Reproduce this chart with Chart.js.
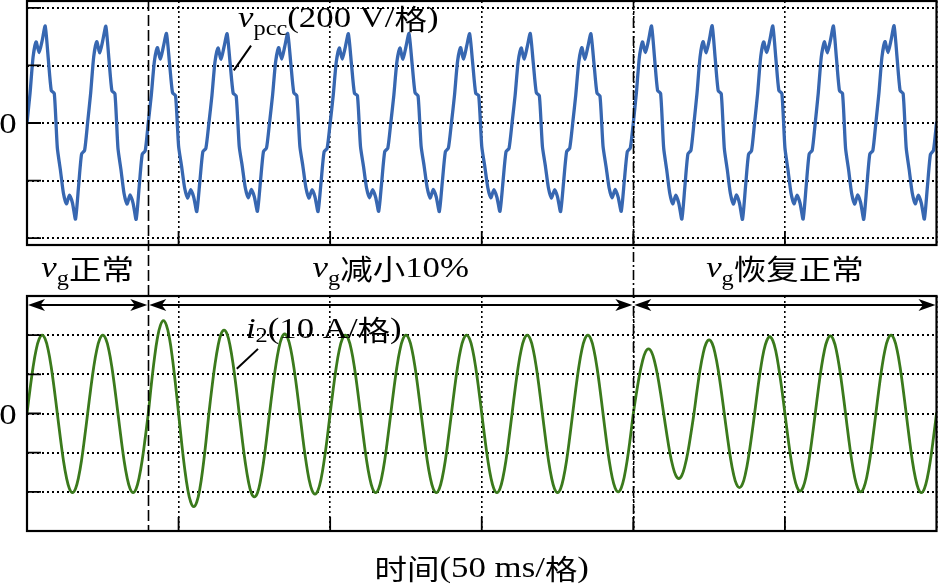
<!DOCTYPE html>
<html>
<head>
<meta charset="utf-8">
<script src="https://cdn.jsdelivr.net/npm/chart.js@4.4.1/dist/chart.umd.min.js"></script>
<style>
html, body { margin: 0; padding: 0; background: #fff; }
#wrap { position: relative; width: 938px; height: 586px; overflow: hidden; background: #fff; }
#wrap canvas { position: absolute; left: 0; top: 0; }
</style>
</head>
<body>
<div id="wrap">
  <canvas id="cTop" width="938" height="586"></canvas>
  <canvas id="cBot" width="938" height="586"></canvas>
</div>
<script>
// ---------------- data ----------------
// sample instants, 1 ms apart, 0 ... 300 ms (6 divisions x 50 ms)
const timeMs = Array.from({ length: 301 }, (_, i) => i);

// v_pcc in volts (200 V / division), one row = one 20 ms cycle
const vpccV = [
  0, 103, 229, 282, 245, 286, 337, 226, 113, 103, -86, -162, -243, -281, -251, -278, -334, -221, -108, -95,
  2, 104, 230, 283, 244, 287, 336, 225, 112, 102, -87, -163, -244, -282, -250, -279, -335, -222, -109, -96,
  1, 96, 213, 262, 222, 266, 311, 209, 105, 95, -80, -151, -226, -261, -232, -258, -308, -205, -100, -88,
  0, 95, 212, 261, 221, 265, 310, 208, 104, 94, -81, -150, -225, -260, -231, -257, -307, -204, -99, -87,
  1, 96, 212, 262, 222, 265, 311, 209, 105, 95, -80, -150, -225, -261, -232, -257, -308, -205, -100, -88,
  0, 95, 211, 261, 222, 264, 310, 208, 104, 95, -81, -151, -226, -260, -232, -258, -307, -205, -99, -88,
  1, 96, 212, 261, 221, 265, 311, 209, 105, 94, -80, -150, -225, -261, -231, -257, -308, -204, -100, -87,
  0, 95, 213, 262, 222, 266, 310, 209, 104, 95, -81, -151, -225, -260, -232, -258, -307, -205, -100, -88,
  1, 95, 212, 261, 222, 265, 311, 208, 105, 95, -80, -150, -226, -261, -232, -257, -308, -205, -99, -88,
  0, 96, 212, 262, 221, 265, 310, 209, 104, 94, -80, -151, -225, -260, -231, -258, -307, -204, -100, -87,
  1, 104, 230, 282, 245, 287, 337, 226, 113, 103, -86, -162, -243, -281, -251, -279, -334, -221, -108, -95,
  0, 103, 229, 283, 244, 286, 338, 225, 112, 102, -87, -163, -244, -282, -250, -278, -335, -222, -109, -96,
  1, 103, 229, 282, 245, 287, 337, 226, 113, 103, -86, -162, -243, -281, -251, -279, -334, -221, -108, -95,
  0, 104, 230, 282, 244, 286, 337, 225, 112, 103, -87, -162, -244, -282, -250, -278, -335, -222, -108, -96,
  1, 103, 229, 283, 245, 287, 338, 226, 113, 102, -86, -163, -243, -281, -251, -279, -334, -221, -109, -95,
  0
];

// i2 in amperes (10 A / division), one row = one 10 ms half cycle
const i2A = [
  0, 6.2, 11.8, 16.2, 19.0, 20.0, 19.0, 16.2, 11.8, 6.2,
  0, -6.2, -11.9, -16.3, -19.2, -20.2, -19.2, -16.3, -11.9, -6.2,
  0, 6.2, 11.8, 16.2, 19.0, 20.0, 19.0, 16.2, 11.8, 6.2,
  0, -6.2, -11.9, -16.3, -19.2, -20.2, -19.2, -16.3, -11.9, -6.2,
  0, 7.3, 13.9, 19.2, 22.5, 23.7, 22.5, 19.2, 13.9, 7.3,
  0, -7.4, -14.0, -19.3, -22.6, -23.8, -22.6, -19.3, -14.0, -7.4,
  0, 6.6, 12.5, 17.2, 20.3, 21.3, 20.3, 17.2, 12.5, 6.6,
  0, -6.6, -12.5, -17.2, -20.3, -21.3, -20.3, -17.2, -12.5, -6.6,
  0, 6.3, 11.9, 16.4, 19.3, 20.3, 19.3, 16.4, 11.9, 6.3,
  0, -6.4, -12.1, -16.7, -19.6, -20.6, -19.6, -16.7, -12.1, -6.4,
  0, 6.2, 11.8, 16.2, 19.0, 20.0, 19.0, 16.2, 11.8, 6.2,
  0, -6.2, -11.9, -16.3, -19.2, -20.2, -19.2, -16.3, -11.9, -6.2,
  0, 6.2, 11.8, 16.2, 19.0, 20.0, 19.0, 16.2, 11.8, 6.2,
  0, -6.2, -11.9, -16.3, -19.2, -20.2, -19.2, -16.3, -11.9, -6.2,
  0, 6.2, 11.8, 16.2, 19.0, 20.0, 19.0, 16.2, 11.8, 6.2,
  0, -6.2, -11.9, -16.3, -19.2, -20.2, -19.2, -16.3, -11.9, -6.2,
  0, 6.2, 11.8, 16.2, 19.0, 20.0, 19.0, 16.2, 11.8, 6.2,
  0, -6.2, -11.9, -16.3, -19.2, -20.2, -19.2, -16.3, -11.9, -6.2,
  0, 6.2, 11.8, 16.2, 19.0, 20.0, 19.0, 16.2, 11.8, 6.2,
  0, -6.2, -11.8, -16.2, -19.0, -20.0, -19.0, -16.2, -11.8, -6.2,
  0, 5.1, 9.7, 13.3, 15.7, 16.5, 15.7, 13.3, 9.7, 5.1,
  0, -5.1, -9.8, -13.4, -15.8, -16.6, -15.8, -13.4, -9.8, -5.1,
  0, 5.8, 11.1, 15.2, 17.9, 18.8, 17.9, 15.2, 11.1, 5.8,
  0, -5.8, -11.1, -15.3, -18.0, -18.9, -18.0, -15.3, -11.1, -5.8,
  0, 6.1, 11.5, 15.9, 18.6, 19.6, 18.6, 15.9, 11.5, 6.1,
  0, -6.1, -11.6, -16.0, -18.8, -19.8, -18.8, -16.0, -11.6, -6.1,
  0, 6.1, 11.6, 16.0, 18.8, 19.8, 18.8, 16.0, 11.6, 6.1,
  0, -6.2, -11.8, -16.2, -19.0, -20.0, -19.0, -16.2, -11.8, -6.2,
  0, 6.2, 11.8, 16.2, 19.0, 20.0, 19.0, 16.2, 11.8, 6.2,
  0, -6.2, -11.9, -16.3, -19.2, -20.2, -19.2, -16.3, -11.9, -6.2,
  0
];

const timeRangeMs = [0, 300];
const timeStepMs = 50;            // 50 ms / division
const vpccRangeV = [-424, 424];
const vpccStepV = 200;            // 200 V / division
const i2RangeA = [-30, 30];
const i2StepA = 10;               // 10 A / division
const eventTimesMs = [40, 200];   // v_g drops 10 %, v_g restored
const regionBoundsMs = [0, 40, 200, 300];
const regionTexts = [['正常'], ['减小', '10%'], ['恢复正常']];
const xTitleParts = ['时间', '(50 ms/', '格', ')'];
// label anchors in data units (time ms, value)
const vpccLabelAt = { t: 69.6, v: 332 };
const vpccLeader = [{ t: 73.9, v: 269 }, { t: 68.2, v: 183 }];
const i2LabelAt = { t: 72.2, v: 19.3 };
const i2Leader = [{ t: 76.2, v: 16.5 }, { t: 69.2, v: 11.4 }];

// ---------------- text helper ----------------
const SX = 1.16;
const FONTS = {
  rm: '30px "Liberation Serif", "Times New Roman", serif',
  it: 'italic 30px "Liberation Serif", "Times New Roman", serif',
  sub: '21px "Liberation Serif", "Times New Roman", serif',
  cjk: '28px "Noto Sans CJK SC", "Noto Sans CJK JP", sans-serif'
};
const DY = { rm: 0, it: 0, sub: 8, cjk: 3 };
function richText(ctx, parts, x, y, align) {
  let w = 0;
  const widths = parts.map(p => { ctx.font = FONTS[p[0]]; const m = ctx.measureText(p[1]).width; w += m; return m; });
  ctx.save();
  ctx.fillStyle = '#000';
  ctx.textBaseline = 'alphabetic';
  ctx.textAlign = 'left';
  ctx.translate(align === 'center' ? x - w * SX / 2 : x, y);
  ctx.scale(SX, 1);
  let pos = 0;
  parts.forEach((p, k) => {
    ctx.font = FONTS[p[0]];
    ctx.fillText(p[1], pos, p.length > 2 ? p[2] : DY[p[0]]);
    pos += widths[k];
  });
  ctx.restore();
}

function arrowHead(ctx, tipX, y, dir) {
  const L = 17, H = 6, N = 4.5;
  ctx.beginPath();
  ctx.moveTo(tipX, y);
  ctx.lineTo(tipX - dir * L, y - H);
  ctx.lineTo(tipX - dir * (L - N), y);
  ctx.lineTo(tipX - dir * L, y + H);
  ctx.closePath();
  ctx.fill();
}

function leader(ctx, x, y, pts) {
  ctx.save();
  ctx.strokeStyle = '#000';
  ctx.lineWidth = 2;
  ctx.beginPath();
  ctx.moveTo(x.getPixelForValue(pts[0].t), y.getPixelForValue(pts[0].v));
  ctx.lineTo(x.getPixelForValue(pts[1].t), y.getPixelForValue(pts[1].v));
  ctx.stroke();
  ctx.restore();
}

// ---------------- scope frame plugin ----------------
const scopePlugin = {
  id: 'scope',
  afterDatasetsDraw(chart, args, opts) {
    const { ctx, chartArea: a } = chart;
    const x = chart.scales.x, y = chart.scales.y;
    ctx.save();
    ctx.strokeStyle = '#000';
    ctx.lineWidth = 1.8;
    ctx.beginPath();
    y.ticks.forEach(t => {
      if (t.value > y.min && t.value < y.max) {
        const py = y.getPixelForValue(t.value);
        ctx.moveTo(a.left, py); ctx.lineTo(a.left + 14, py);
      }
    });
    x.ticks.forEach(t => {
      if (t.value > x.min && t.value < x.max) {
        const px = x.getPixelForValue(t.value);
        ctx.moveTo(px, a.bottom); ctx.lineTo(px, a.bottom - 14);
      }
    });
    ctx.stroke();
    ctx.lineWidth = 2.2;
    ctx.strokeRect(a.left, a.top, a.right - a.left, a.bottom - a.top);
    ctx.restore();

    // zero label on the left
    richText(ctx, [['rm', '0']], 8, y.getPixelForValue(0) + 10, 'center');

    if (opts.kind === 'top') {
      richText(ctx, [['it', 'v'], ['sub', 'pcc'], ['rm', '(200 V/'], ['cjk', '格'], ['rm', ')']],
        x.getPixelForValue(vpccLabelAt.t), y.getPixelForValue(vpccLabelAt.v), 'left');
      leader(ctx, x, y, vpccLeader);
    } else {
      richText(ctx, [['it', 'i'], ['sub', '2', 4], ['rm', '(10 A/'], ['cjk', '格'], ['rm', ')']],
        x.getPixelForValue(i2LabelAt.t), y.getPixelForValue(i2LabelAt.v), 'left');
      leader(ctx, x, y, i2Leader);

      // event lines spanning both panels
      ctx.save();
      ctx.strokeStyle = '#000';
      ctx.lineWidth = 1.6;
      const dashes = [[11, 4], [10, 3, 2, 3]];
      eventTimesMs.forEach((t, k) => {
        const px = Math.round(x.getPixelForValue(t)) + 0.5;
        ctx.setLineDash(dashes[k]);
        ctx.beginPath();
        ctx.moveTo(px, 0);
        ctx.lineTo(px, a.bottom);
        ctx.stroke();
      });
      ctx.restore();

      // region arrows + labels
      const ay = a.top + 9;
      ctx.save();
      ctx.strokeStyle = '#000';
      ctx.fillStyle = '#000';
      ctx.lineWidth = 1.8;
      for (let r = 0; r < regionBoundsMs.length - 1; r++) {
        const x1 = x.getPixelForValue(regionBoundsMs[r]);
        const x2 = x.getPixelForValue(regionBoundsMs[r + 1]);
        ctx.beginPath();
        ctx.moveTo(x1 + 4, ay); ctx.lineTo(x2 - 4, ay);
        ctx.stroke();
        arrowHead(ctx, x1 + 1, ay, -1);
        arrowHead(ctx, x2 - 1, ay, 1);
        const parts = [['it', 'v'], ['sub', 'g']];
        regionTexts[r].forEach(s => parts.push([/[0-9%]/.test(s) ? 'rm' : 'cjk', s]));
        richText(ctx, parts, (x1 + x2) / 2, a.top - 19, 'center');
      }
      ctx.restore();

      // x-axis title
      richText(ctx, [['cjk', xTitleParts[0]], ['rm', xTitleParts[1]], ['cjk', xTitleParts[2]], ['rm', xTitleParts[3]]],
        (a.left + a.right) / 2, a.bottom + 46, 'center');
    }
  }
};

function scopeScales(yRange, yStep, xHeight) {
  return {
    x: {
      type: 'linear', min: timeRangeMs[0], max: timeRangeMs[1],
      ticks: { stepSize: timeStepMs, display: false },
      grid: { color: '#000', lineWidth: 1.6, drawTicks: false },
      border: { display: false, dash: [2, 3] },
      afterFit: s => { s.height = xHeight; }
    },
    y: {
      type: 'linear', min: yRange[0], max: yRange[1],
      ticks: { stepSize: yStep, display: false, includeBounds: false },
      grid: { color: '#000', lineWidth: 1.9, drawTicks: false },
      border: { display: false, dash: [2, 3] },
      afterFit: s => { s.width = 27; }
    }
  };
}

new Chart(document.getElementById('cTop'), {
  type: 'line',
  data: {
    datasets: [{
      data: timeMs.map((t, i) => ({ x: t, y: vpccV[i] })),
      borderColor: '#3767b1', borderWidth: 3.3, tension: 0.2,
      pointRadius: 0, borderJoinStyle: 'round', borderCapStyle: 'round', fill: false
    }]
  },
  options: {
    responsive: false, animation: false, events: [],
    layout: { padding: { left: 0, top: 1, right: 1.5, bottom: 341 } },
    plugins: { legend: { display: false }, tooltip: { enabled: false }, scope: { kind: 'top' } },
    scales: scopeScales(vpccRangeV, vpccStepV, 0)
  },
  plugins: [scopePlugin]
});

new Chart(document.getElementById('cBot'), {
  type: 'line',
  data: {
    datasets: [{
      data: timeMs.map((t, i) => ({ x: t, y: i2A[i] })),
      borderColor: '#3b7a1c', borderWidth: 2.8, tension: 0.4,
      pointRadius: 0, borderJoinStyle: 'round', borderCapStyle: 'round', fill: false
    }]
  },
  options: {
    responsive: false, animation: false, events: [],
    layout: { padding: { left: 0, top: 296, right: 1.5, bottom: 0 } },
    plugins: { legend: { display: false }, tooltip: { enabled: false }, scope: { kind: 'bottom' } },
    scales: scopeScales(i2RangeA, i2StepA, 55)
  },
  plugins: [scopePlugin]
});
</script>
</body>
</html>
